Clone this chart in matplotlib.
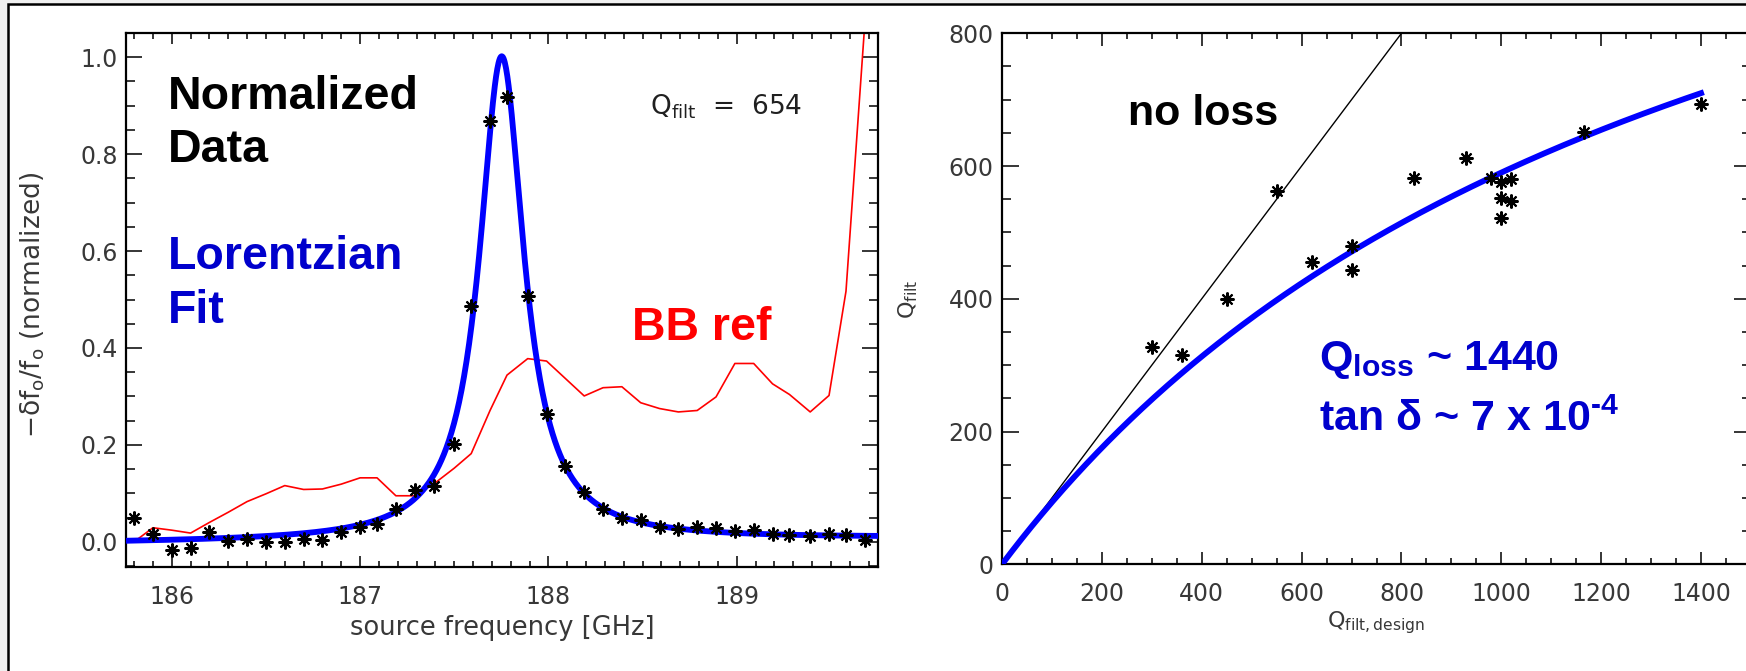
import numpy as np
import matplotlib
matplotlib.use("Agg")
import matplotlib.pyplot as plt
from matplotlib.patches import Rectangle
from matplotlib.ticker import MultipleLocator, FormatStrFormatter

plt.rcParams["font.family"] = ["DejaVu Sans"]
plt.rcParams["mathtext.fontset"] = "custom"
plt.rcParams["mathtext.rm"] = "DejaVu Sans"
plt.rcParams["mathtext.it"] = "DejaVu Sans"
plt.rcParams["mathtext.bf"] = "Liberation Sans:bold"

# ---- filter response sweep (normalized) ----
freq_ghz = [185.80, 185.90, 186.00, 186.10, 186.20, 186.30, 186.40, 186.50, 186.60, 186.70,
            186.80, 186.90, 187.00, 187.09, 187.19, 187.29, 187.39, 187.50, 187.59, 187.69,
            187.78, 187.89, 187.99, 188.09, 188.19, 188.29, 188.39, 188.49, 188.59, 188.69,
            188.79, 188.89, 188.99, 189.09, 189.19, 189.28, 189.39, 189.49, 189.58, 189.68]
response = [0.050, 0.016, -0.017, -0.012, 0.021, 0.002, 0.006, -0.001, -0.001, 0.005,
            0.003, 0.021, 0.031, 0.037, 0.068, 0.106, 0.116, 0.201, 0.487, 0.868,
            0.917, 0.507, 0.263, 0.157, 0.102, 0.067, 0.050, 0.044, 0.031, 0.027,
            0.030, 0.028, 0.023, 0.024, 0.017, 0.014, 0.012, 0.016, 0.014, 0.004]
bb_ref = [0.000, 0.029, 0.024, 0.018, 0.040, 0.061, 0.083, 0.099, 0.116, 0.108,
          0.109, 0.119, 0.132, 0.132, 0.095, 0.095, 0.119, 0.152, 0.182, 0.271,
          0.344, 0.378, 0.373, 0.337, 0.301, 0.318, 0.320, 0.287, 0.275, 0.268,
          0.271, 0.299, 0.368, 0.368, 0.326, 0.304, 0.268, 0.302, 0.517, 1.070]

# Lorentzian fit parameters
q_filt_fit = 654
f_center = 187.752
base_offset = 0.002
base_slope = 0.0025

# ---- measured Q versus design Q ----
q_design = [300, 360, 450, 550, 620, 700, 700, 825, 930, 980, 1000, 1000, 1000, 1020, 1020, 1165, 1400]
q_filt = [327, 316, 400, 562, 455, 480, 443, 582, 612, 582, 576, 552, 522, 580, 548, 652, 694]
q_loss = 1440

W, H = 1746, 671
fig = plt.figure(figsize=(W / 100, H / 100), dpi=100, facecolor="#f0f0f0")
fig.patches.append(Rectangle((8 / W, -0.05), 1.2, 1.05 - 4 / H, transform=fig.transFigure,
                             facecolor="white", edgecolor="black", lw=1.8, zorder=-10))

ax1 = fig.add_axes([126 / W, (H - 567) / H, 752 / W, 534 / H])
ax2 = fig.add_axes([1002 / W, (H - 564.3) / H, 749 / W, 531 / H])

tick_color = "#383838"
for ax in (ax1, ax2):
    for s in ax.spines.values():
        s.set_linewidth(1.6)
    ax.tick_params(which="both", direction="in", top=True, right=True, width=1.1,
                   labelsize=17, labelcolor=tick_color)

ax1.tick_params(axis="y", which="major", length=11.5, pad=6)
ax1.tick_params(axis="y", which="minor", length=6.5)
ax1.tick_params(axis="x", which="major", length=8, pad=13)
ax1.tick_params(axis="x", which="minor", length=4.5)
ax2.tick_params(axis="y", which="major", length=12, pad=6)
ax2.tick_params(axis="y", which="minor", length=6.5)
ax2.tick_params(axis="x", which="major", length=9, pad=13)
ax2.tick_params(axis="x", which="minor", length=4.5)

# ---- left panel ----
f = np.asarray(freq_ghz)
fine = np.linspace(185.757, 189.75, 1200)
hwhm = f_center / q_filt_fit / 2
lorentz = 1.0 / (1.0 + ((fine - f_center) / hwhm) ** 2) + base_offset + base_slope * (fine - f_center)

ax1.plot(f, bb_ref, color="#ff0000", lw=1.2, zorder=2)
ax1.plot(fine, lorentz, color="#0000ff", lw=4.2, zorder=3, solid_capstyle="butt")
ax1.plot(f, response, ls="none", marker=(8, 2, 0), ms=10, mew=1.5, color="black", zorder=4)

ax1.set_xlim(185.757, 189.75)
ax1.set_ylim(-0.052, 1.05)
ax1.xaxis.set_major_locator(MultipleLocator(1))
ax1.xaxis.set_minor_locator(MultipleLocator(0.1))
ax1.yaxis.set_major_locator(MultipleLocator(0.2))
ax1.yaxis.set_minor_locator(MultipleLocator(0.05))
ax1.yaxis.set_major_formatter(FormatStrFormatter("%.1f"))
ax1.set_xlabel("source frequency [GHz]", fontsize=18.5, color=tick_color, labelpad=4)
ax1.set_ylabel(r"$\mathregular{-\delta f_o/f_o}$ (normalized)", fontsize=19, color=tick_color)
ax1.yaxis.set_label_coords(-0.105, 0.49)

big = dict(family="Liberation Sans", fontweight="bold", fontsize=33.5, transform=ax1.transAxes,
           va="baseline", ha="left")
ax1.text(0.056, 0.858, "Normalized", color="black", **big)
ax1.text(0.056, 0.758, "Data", color="black", **big)
ax1.text(0.056, 0.558, "Lorentzian", color="#0000cc", **big)
ax1.text(0.056, 0.456, "Fit", color="#0000cc", **big)
ax1.text(0.673, 0.425, "BB ref", color="#ff0000", **big)
ax1.text(0.697, 0.847, r"Q$_{\mathregular{filt}}$  =  %d" % q_filt_fit, fontsize=19,
         color="#202020", transform=ax1.transAxes, va="baseline", ha="left")

# ---- right panel ----
qd = np.linspace(0, 1400, 500)
q_model = 1.0 / (1.0 / np.maximum(qd, 1e-9) + 1.0 / q_loss)
ax2.plot([0, 1500], [0, 1500], color="black", lw=1.0, zorder=2)
ax2.plot(qd, q_model, color="#0000ff", lw=4.2, zorder=3)
ax2.plot(q_design, q_filt, ls="none", marker=(8, 2, 0), ms=10, mew=1.5, color="black", zorder=4)

ax2.set_xlim(0, 1500)
ax2.set_ylim(0, 800)
ax2.xaxis.set_major_locator(MultipleLocator(200))
ax2.xaxis.set_minor_locator(MultipleLocator(50))
ax2.yaxis.set_major_locator(MultipleLocator(200))
ax2.yaxis.set_minor_locator(MultipleLocator(50))
ax2.set_xlabel(r"Q$_{\mathregular{filt,design}}$", fontsize=16, color=tick_color, labelpad=2)
ax2.set_ylabel(r"Q$_{\mathregular{filt}}$", fontsize=16, color=tick_color)
ax2.yaxis.set_label_coords(-0.11, 0.5)

big2 = dict(family="Liberation Sans", fontweight="bold", fontsize=31, transform=ax2.transAxes,
            va="baseline", ha="left")
ax2.text(0.168, 0.827, "no loss", color="black", **big2)
ax2.text(0.423, 0.366, r"Q$_{\mathbf{loss}}$ ~ %d" % q_loss, color="#0000cc", **big2)
ax2.text(0.423, 0.251, "tan δ ~ 7 x 10$^{\\mathbf{\u2010}\\mathbf{4}}$", color="#0000cc", **big2)

fig.savefig("out.png", dpi=100, facecolor=fig.get_facecolor())
